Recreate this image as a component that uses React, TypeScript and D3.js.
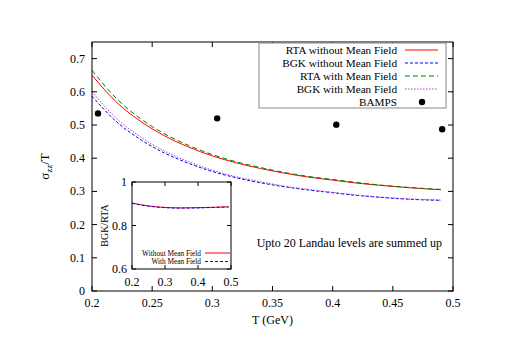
import React from "react";
import { scaleLinear, line, curveMonotoneX } from "d3";

// temperatures (GeV) where the curves were read
const temps = [0.2, 0.22, 0.24, 0.26, 0.28, 0.3, 0.32, 0.34, 0.36, 0.38, 0.4, 0.42, 0.44, 0.46, 0.48, 0.49];

// sigma_zz / T for each model
const rtaNoMF = [0.65, 0.57, 0.512, 0.468, 0.434, 0.407, 0.386, 0.369, 0.355, 0.343, 0.334, 0.325, 0.318, 0.312, 0.307, 0.305];
const bgkNoMF = [0.587, 0.511, 0.457, 0.416, 0.385, 0.36, 0.341, 0.326, 0.314, 0.304, 0.296, 0.288, 0.282, 0.277, 0.274, 0.273];
const rtaMF = [0.665, 0.581, 0.52, 0.474, 0.439, 0.411, 0.389, 0.372, 0.357, 0.345, 0.336, 0.327, 0.319, 0.313, 0.308, 0.306];
const bgkMF = [0.6, 0.521, 0.465, 0.422, 0.39, 0.364, 0.344, 0.329, 0.316, 0.306, 0.297, 0.289, 0.283, 0.278, 0.275, 0.274];

// BAMPS points
const bampsT = [0.205, 0.304, 0.403, 0.491];
const bampsVal = [0.535, 0.52, 0.501, 0.487];

// inset: BGK/RTA ratio
const ratioT = [0.2, 0.25, 0.3, 0.35, 0.4, 0.45, 0.493];
const ratioNoMF = [0.903, 0.89, 0.883, 0.881, 0.882, 0.884, 0.886];
const ratioMF = [0.902, 0.889, 0.882, 0.88, 0.881, 0.883, 0.885];

const xTicks = [0.2, 0.25, 0.3, 0.35, 0.4, 0.45, 0.5];
const yTicks = [0, 0.1, 0.2, 0.3, 0.4, 0.5, 0.6, 0.7];
const insetXTicks = [0.2, 0.3, 0.4, 0.5];
const insetYTicks = [0.6, 0.8, 1];

const series = [
  { name: "RTA without Mean Field", values: rtaNoMF, color: "#ff0000", dash: "" },
  { name: "BGK without Mean Field", values: bgkNoMF, color: "#0000ff", dash: "3,2" },
  { name: "RTA with Mean Field", values: rtaMF, color: "#008000", dash: "5,3" },
  { name: "BGK with Mean Field", values: bgkMF, color: "#b040c0", dash: "1.5,1.5" },
];

const insetSeries = [
  { name: "Without Mean Field", values: ratioNoMF, color: "#ff0000", dash: "" },
  { name: "With Mean Field", values: ratioMF, color: "#0000ff", dash: "3,2" },
];

const font = "'Liberation Serif', 'Times New Roman', serif";

export default function App() {
  const W = 520;
  const H = 354;
  const m = { left: 92, right: 453, top: 42, bottom: 291 };

  const x = scaleLinear().domain([0.2, 0.5]).range([m.left, m.right]);
  const y = scaleLinear().domain([0, 0.75]).range([m.bottom, m.top]);

  const ins = { left: 132, right: 231, top: 182, bottom: 269 };
  const ix = scaleLinear().domain([0.2, 0.5]).range([ins.left, ins.right]);
  const iy = scaleLinear().domain([0.6, 1]).range([ins.bottom, ins.top]);

  const mainLine = line<number>()
    .x((_, i) => x(temps[i]))
    .y((d) => y(d))
    .curve(curveMonotoneX);

  const insetLine = line<number>()
    .x((_, i) => ix(ratioT[i]))
    .y((d) => iy(d))
    .curve(curveMonotoneX);

  const tick = 5;
  const legendRight = 397;
  const legendTop = 50;
  const rowH = 13;

  return (
    <div style={{ position: "absolute", left: 0, top: 0 }}>
      <svg width={W} height={H} style={{ display: "block", background: "#fff" }} fontFamily={font}>
        {/* main curves */}
        {series.map((s) => (
          <path
            key={s.name}
            d={mainLine(s.values) || ""}
            fill="none"
            stroke={s.color}
            strokeWidth={1}
            strokeDasharray={s.dash}
          />
        ))}
        {bampsT.map((t, i) => (
          <circle key={t} cx={x(t)} cy={y(bampsVal[i])} r={3.2} fill="#000" />
        ))}

        {/* main frame and ticks */}
        <rect x={m.left} y={m.top} width={m.right - m.left} height={m.bottom - m.top} fill="none" stroke="#000" strokeWidth={1} />
        {xTicks.map((t) => (
          <g key={"x" + t}>
            <line x1={x(t)} x2={x(t)} y1={m.bottom} y2={m.bottom - tick} stroke="#000" />
            <line x1={x(t)} x2={x(t)} y1={m.top} y2={m.top + tick} stroke="#000" />
            <text x={x(t)} y={307} fontSize={12} textAnchor="middle">
              {t}
            </text>
          </g>
        ))}
        {yTicks.map((t) => (
          <g key={"y" + t}>
            <line x1={m.left} x2={m.left + tick} y1={y(t)} y2={y(t)} stroke="#000" />
            <line x1={m.right} x2={m.right - tick} y1={y(t)} y2={y(t)} stroke="#000" />
            <text x={85} y={y(t) + 4} fontSize={12} textAnchor="end">
              {t}
            </text>
          </g>
        ))}
        <text x={(m.left + m.right) / 2} y={324} fontSize={12} textAnchor="middle">
          T (GeV)
        </text>
        <text transform={`translate(49,${(m.top + m.bottom) / 2}) rotate(-90)`} fontSize={13} textAnchor="middle">
          σ<tspan fontSize={9} dy={3}>zz</tspan>
          <tspan dy={-3}>/T</tspan>
        </text>

        {/* legend */}
        <rect x={259} y={43} width={446 - 259} height={108 - 43} fill="#fff" stroke="#888" strokeWidth={1} />
        {series.map((s, i) => (
          <g key={"leg" + s.name}>
            <text x={legendRight} y={legendTop + i * rowH + 4} fontSize={11.2} textAnchor="end">
              {s.name}
            </text>
            <line x1={405} x2={438} y1={legendTop + i * rowH} y2={legendTop + i * rowH} stroke={s.color} strokeDasharray={s.dash} />
          </g>
        ))}
        <text x={legendRight} y={legendTop + 4 * rowH + 4} fontSize={11.2} textAnchor="end">
          BAMPS
        </text>
        <circle cx={422} cy={legendTop + 4 * rowH} r={3.2} fill="#000" />

        <text x={442} y={247} fontSize={12} textAnchor="end">
          Upto 20 Landau levels are summed up
        </text>

        {/* inset */}
        <rect x={ins.left} y={ins.top} width={ins.right - ins.left} height={ins.bottom - ins.top} fill="#fff" />
        {insetSeries.map((s) => (
          <path
            key={s.name}
            d={insetLine(s.values) || ""}
            fill="none"
            stroke={s.color}
            strokeWidth={1}
            strokeDasharray={s.dash}
          />
        ))}
        {insetSeries.map((s, i) => (
          <g key={"il" + s.name}>
            <text x={201} y={253 + i * 8.5 + 2.5} fontSize={7.3} textAnchor="end">
              {s.name}
            </text>
            <line x1={205} x2={230} y1={253 + i * 8.5} y2={253 + i * 8.5} stroke={s.color} strokeDasharray={s.dash} />
          </g>
        ))}
        <rect x={ins.left} y={ins.top} width={ins.right - ins.left} height={ins.bottom - ins.top} fill="none" stroke="#000" strokeWidth={1} />
        {insetXTicks.map((t) => (
          <g key={"ix" + t}>
            <line x1={ix(t)} x2={ix(t)} y1={ins.bottom} y2={ins.bottom - 4} stroke="#000" />
            <line x1={ix(t)} x2={ix(t)} y1={ins.top} y2={ins.top + 4} stroke="#000" />
            <text x={ix(t)} y={286} fontSize={12} textAnchor="middle">
              {t}
            </text>
          </g>
        ))}
        {insetYTicks.map((t) => (
          <g key={"iy" + t}>
            <line x1={ins.left} x2={ins.left + 4} y1={iy(t)} y2={iy(t)} stroke="#000" />
            <line x1={ins.right} x2={ins.right - 4} y1={iy(t)} y2={iy(t)} stroke="#000" />
            <text x={127} y={iy(t) + 4} fontSize={12} textAnchor="end">
              {t}
            </text>
          </g>
        ))}
        <text transform={`translate(108,${(ins.top + ins.bottom) / 2}) rotate(-90)`} fontSize={10} textAnchor="middle">
          BGK/RTA
        </text>
      </svg>
    </div>
  );
}
